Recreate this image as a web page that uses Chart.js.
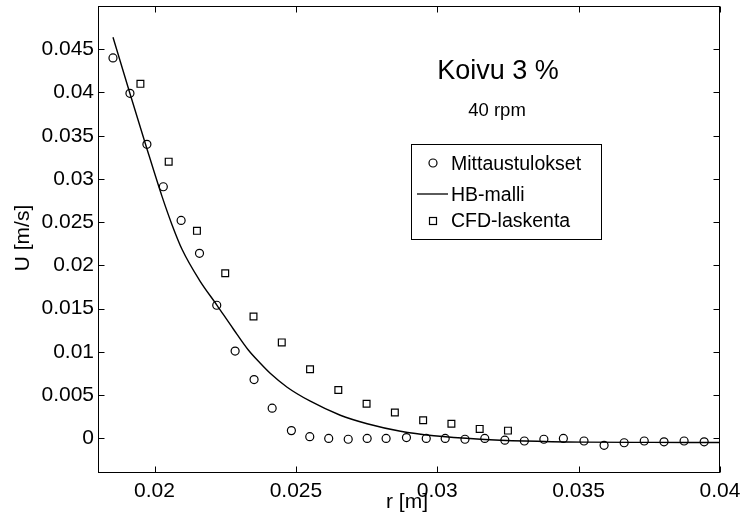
<!DOCTYPE html>
<html>
<head>
<meta charset="utf-8">
<script src="https://cdn.jsdelivr.net/npm/chart.js@4/dist/chart.umd.min.js"></script>
<style>
  html, body { margin: 0; padding: 0; background: #fff; }
  #wrap { width: 742px; height: 525px; }
</style>
</head>
<body>
<div id="wrap"><canvas id="c" width="742" height="525"></canvas></div>
<script>
// Measured velocity profile (Mittaustulokset)
const rMeas = [0.01853, 0.01913, 0.01973, 0.02031, 0.02094, 0.02159, 0.02220, 0.02285,
               0.02352, 0.02416, 0.02484, 0.02549, 0.02616, 0.02685, 0.02752, 0.02819,
               0.02891, 0.02961, 0.03028, 0.03098, 0.03168, 0.03239, 0.03308, 0.03377,
               0.03446, 0.03519, 0.03590, 0.03661, 0.03732, 0.03802, 0.03873, 0.03944];
const uMeas = [0.0440, 0.0399, 0.0340, 0.0291, 0.0252, 0.0214, 0.0154, 0.0101,
               0.0068, 0.0035, 0.0009, 0.0002, 0.0000, -0.0001, 0.0000, 0.0000,
               0.0001, 0.0000, 0.0000, -0.0001, 0.0000, -0.0002, -0.0003, -0.0001,
               0.0000, -0.0003, -0.0008, -0.0005, -0.0003, -0.0004, -0.0003, -0.0004];

// Herschel-Bulkley model curve (HB-malli)
const rModel = [0.01853, 0.01913, 0.01970, 0.02027, 0.02062, 0.02098, 0.02158, 0.02221,
                0.02278, 0.02331, 0.02374, 0.02409, 0.02469, 0.02551, 0.02657, 0.02752,
                0.02870, 0.02988, 0.03153, 0.03309, 0.03518, 0.03755, 0.04000];
const uModel = [0.04638, 0.03989, 0.03382, 0.02793, 0.02469, 0.02181, 0.01834, 0.01539,
                0.01268, 0.01025, 0.00869, 0.00753, 0.00592, 0.00430, 0.00268, 0.00170,
                0.00083, 0.00031, -0.00009, -0.00030, -0.00043, -0.00046, -0.00047];

// CFD results (CFD-laskenta)
const rCfd = [0.0195, 0.0205, 0.0215, 0.0225, 0.0235, 0.0245, 0.0255, 0.0265,
              0.0275, 0.0285, 0.0295, 0.0305, 0.0315, 0.0325];
const uCfd = [0.0410, 0.0320, 0.0240, 0.0191, 0.0141, 0.0111, 0.0080, 0.0056,
              0.0040, 0.0030, 0.0021, 0.0017, 0.0011, 0.0009];

// Axis ticks
const xTicks = [0.02, 0.025, 0.03, 0.035, 0.04];
const yTicks = [0, 0.005, 0.01, 0.015, 0.02, 0.025, 0.03, 0.035, 0.04, 0.045];

const FONT = '"Liberation Sans", Arial, Helvetica, sans-serif';
const pts = (xs, ys) => xs.map((x, i) => ({ x: x, y: ys[i] }));
const fmt = v => String(+Number(v).toFixed(4));

// Box around the plot, inward ticks on all four sides, texts and legend
const decorations = {
  id: 'decorations',
  afterDraw(chart) {
    const ctx = chart.ctx;
    const a = chart.chartArea;
    const xs = chart.scales.x, ys = chart.scales.y;
    const L = Math.round(a.left) + 0.5, R = Math.round(a.right) - 0.5;
    const T = Math.round(a.top) + 0.5, B = Math.round(a.bottom) - 0.5;
    const tl = 6;
    ctx.save();
    ctx.strokeStyle = '#000';
    ctx.lineWidth = 1;
    ctx.beginPath();
    xTicks.forEach(v => {
      const px = Math.round(xs.getPixelForValue(v)) + 0.5;
      ctx.moveTo(px, B); ctx.lineTo(px, B - tl);
      ctx.moveTo(px, T); ctx.lineTo(px, T + tl);
    });
    yTicks.forEach(v => {
      const py = Math.round(ys.getPixelForValue(v)) + 0.5;
      ctx.moveTo(L, py); ctx.lineTo(L + tl, py);
      ctx.moveTo(R, py); ctx.lineTo(R - tl, py);
    });
    ctx.stroke();
    ctx.strokeRect(L, T, R - L, B - T);

    // axis titles
    ctx.fillStyle = '#000';
    ctx.textBaseline = 'alphabetic';
    ctx.textAlign = 'center';
    ctx.font = '21px ' + FONT;
    ctx.fillText('r [m]', 407, 508);
    ctx.save();
    ctx.translate(29, 238);
    ctx.rotate(-Math.PI / 2);
    ctx.fillText('U [m/s]', 0, 0);
    ctx.restore();

    // annotation texts
    ctx.font = '27px ' + FONT;
    ctx.fillText('Koivu 3 %', 498, 79);
    ctx.font = '18.5px ' + FONT;
    ctx.fillText('40 rpm', 497, 116);

    // legend
    const lx = 411.5, ly = 144.5, lw = 190, lh = 95;
    ctx.fillStyle = '#fff';
    ctx.fillRect(lx, ly, lw, lh);
    ctx.strokeRect(lx, ly, lw, lh);
    ctx.fillStyle = '#000';
    ctx.textAlign = 'left';
    ctx.font = '19.5px ' + FONT;
    const items = chart.data.datasets;
    const rows = [163, 194, 221];
    const bases = [170, 201, 227];
    items.forEach((ds, i) => {
      const cy = rows[i];
      ctx.lineWidth = 1.2;
      if (ds.showLine) {
        ctx.beginPath();
        ctx.moveTo(417, cy); ctx.lineTo(448, cy);
        ctx.lineWidth = 1.3;
        ctx.stroke();
      } else if (ds.pointStyle === 'rect') {
        ctx.strokeRect(429.5, cy - 3.5, 7, 7);
      } else {
        ctx.beginPath();
        ctx.arc(433, cy, 4, 0, Math.PI * 2);
        ctx.stroke();
      }
      ctx.fillText(ds.label, 451, bases[i]);
    });
    ctx.restore();
  }
};

// keep the plot frame where it is: no extra room for edge tick labels
const noEdgePad = s => {
  s.paddingTop = 0; s.paddingBottom = 0;
  s.paddingLeft = 0; s.paddingRight = 0;
};

new Chart(document.getElementById('c'), {
  type: 'scatter',
  data: {
    datasets: [
      {
        label: 'Mittaustulokset',
        data: pts(rMeas, uMeas),
        showLine: false,
        pointStyle: 'circle',
        pointRadius: 4,
        pointBorderWidth: 1.2,
        pointBorderColor: '#000',
        pointBackgroundColor: 'rgba(0,0,0,0)'
      },
      {
        label: 'HB-malli',
        data: pts(rModel, uModel),
        showLine: true,
        borderColor: '#000',
        borderWidth: 1.4,
        pointRadius: 0,
        cubicInterpolationMode: 'monotone'
      },
      {
        label: 'CFD-laskenta',
        data: pts(rCfd, uCfd),
        showLine: false,
        pointStyle: 'rect',
        pointRadius: 4.8,
        pointBorderWidth: 1.2,
        pointBorderColor: '#000',
        pointBackgroundColor: 'rgba(0,0,0,0)'
      }
    ]
  },
  options: {
    responsive: false,
    animation: false,
    devicePixelRatio: 1,
    layout: { padding: { top: 6, right: 22, left: 0, bottom: 0 } },
    plugins: { legend: { display: false }, tooltip: { enabled: false }, title: { display: false } },
    scales: {
      x: {
        type: 'linear',
        min: 0.018,
        max: 0.04,
        afterBuildTicks: s => { s.ticks = xTicks.map(v => ({ value: v })); },
        afterFit: s => { s.height = 52; noEdgePad(s); },
        grid: { display: false, drawTicks: false },
        border: { display: false },
        ticks: {
          color: '#000',
          font: { family: FONT, size: 21 },
          padding: 6,
          maxRotation: 0,
          autoSkip: false,
          callback: v => fmt(v)
        }
      },
      y: {
        type: 'linear',
        min: -0.004,
        max: 0.05,
        afterBuildTicks: s => { s.ticks = yTicks.map(v => ({ value: v })); },
        afterFit: s => { s.width = 98; noEdgePad(s); },
        grid: { display: false, drawTicks: false },
        border: { display: false },
        ticks: {
          color: '#000',
          font: { family: FONT, size: 21 },
          padding: 4,
          autoSkip: false,
          callback: v => fmt(v)
        }
      }
    }
  },
  plugins: [decorations]
});
</script>
</body>
</html>
